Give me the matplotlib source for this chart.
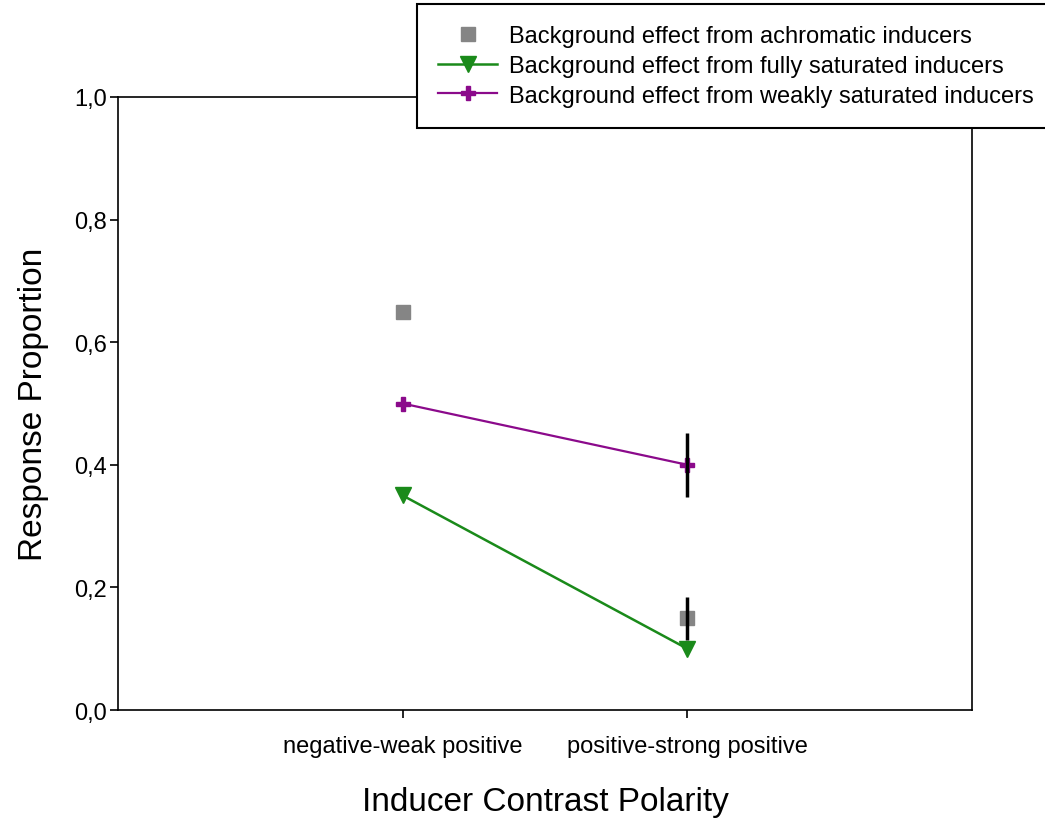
import matplotlib.pyplot as plt
from matplotlib.ticker import FuncFormatter

plt.rcParams['font.family'] = ['Liberation Sans', 'DejaVu Sans']

categories = ['negative-weak positive', 'positive-strong positive']
achromatic = [0.65, 0.15]
achromatic_err = [0.0, 0.035]
fully_saturated = [0.35, 0.10]
weakly_saturated = [0.50, 0.40]
weakly_err = [0.0, 0.052]
y_ticks = [0.0, 0.2, 0.4, 0.6, 0.8, 1.0]

x = [1, 2]

fig = plt.figure(figsize=(10.45, 8.2), dpi=100)
ax = fig.add_axes([0.1129, 0.1329, 0.8172, 0.7476])

# error bars drawn over the markers, like the original
ax.errorbar([x[1]], [achromatic[1]], yerr=[achromatic_err[1]], fmt='none',
            ecolor='black', elinewidth=2.5, capsize=0, zorder=4)
ax.errorbar([x[1]], [weakly_saturated[1]], yerr=[weakly_err[1]], fmt='none',
            ecolor='black', elinewidth=2.5, capsize=0, zorder=4)

ax.plot(x, achromatic, linestyle='none', marker='s', color='#858585',
        markersize=10, label='Background effect from achromatic inducers', zorder=3)
ax.plot(x, fully_saturated, color='#1a8a1a', marker='v', markersize=11,
        linewidth=1.8, label='Background effect from fully saturated inducers', zorder=3)
ax.plot(x, weakly_saturated, color='#8b0a8b', marker='P', markersize=10,
        linewidth=1.6, label='Background effect from weakly saturated inducers', zorder=3)

ax.set_xlim(0, 3)
ax.set_ylim(0, 1.0)
ax.set_xticks(x)
ax.set_xticklabels(categories)
ax.set_yticks(y_ticks)
ax.yaxis.set_major_formatter(FuncFormatter(lambda v, p: f"{v:.1f}".replace('.', ',')))
ax.tick_params(axis='both', direction='out', length=6, width=1.2, labelsize=17)
ax.tick_params(axis='y', pad=2)
ax.tick_params(axis='x', pad=12)
for s in ax.spines.values():
    s.set_linewidth(1.2)

ax.set_xlabel('Inducer Contrast Polarity', fontsize=24, labelpad=21)
ax.set_ylabel('Response Proportion', fontsize=24, labelpad=18)

leg = fig.legend(loc='upper left', bbox_to_anchor=(0.399, 0.994, 0.61, 0.0),
                 mode='expand', fontsize=17, frameon=True, fancybox=False,
                 edgecolor='black', framealpha=1, handlelength=2.5,
                 handletextpad=0.5, labelspacing=0.33, borderpad=0.9,
                 borderaxespad=0.0)
leg.get_frame().set_linewidth(1.5)

fig.savefig('out.png', dpi=100)
